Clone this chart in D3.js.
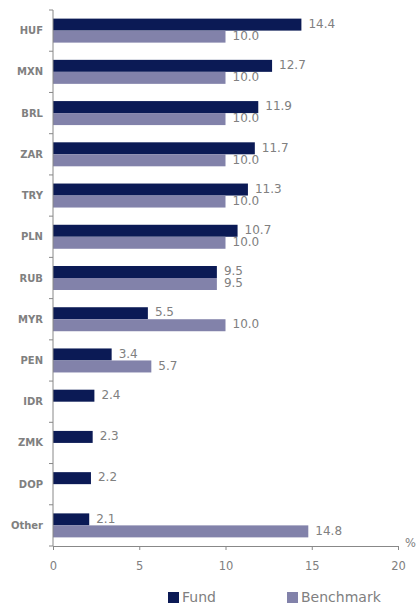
<!DOCTYPE html>
<html>
<head>
<meta charset="utf-8">
<script src="https://cdn.jsdelivr.net/npm/d3@7"></script>
<style>
  body { margin: 0; background: #fff; }
  svg text { font-family: "DejaVu Sans", Verdana, sans-serif; }
</style>
</head>
<body>
<div id="chart"></div>
<script>
// chart size, same as the browser window
const WIDTH = 416, HEIGHT = 605;

// currencies, top to bottom
const currencies = ["HUF", "MXN", "BRL", "ZAR", "TRY", "PLN", "RUB", "MYR", "PEN", "IDR", "ZMK", "DOP", "Other"];
// exposure in %, null = no bar
const fundValues = [14.4, 12.7, 11.9, 11.7, 11.3, 10.7, 9.5, 5.5, 3.4, 2.4, 2.3, 2.2, 2.1];
const benchmarkValues = [10.0, 10.0, 10.0, 10.0, 10.0, 10.0, 9.5, 10.0, 5.7, null, null, null, 14.8];
const xTicks = [0, 5, 10, 15, 20];
const seriesNames = ["Fund", "Benchmark"];
const colors = ["#0b1a55", "#8282aa"];

const margin = { top: 10, right: 18, bottom: 59, left: 53 };

const svg = d3.select("#chart")
    .append("svg")
    .attr("width", WIDTH)
    .attr("height", HEIGHT);

const x = d3.scaleLinear()
    .domain([0, 20])
    .range([margin.left, WIDTH - margin.right]);

const y = d3.scaleBand()
    .domain(currencies)
    .range([margin.top, HEIGHT - margin.bottom]);

const barH = 12;
const grey = "#808080";

// bars: fund on top, benchmark just below
const rows = currencies.map((c, i) => ({ c, fund: fundValues[i], bench: benchmarkValues[i] }));

const g = svg.append("g");

rows.forEach(d => {
    const mid = y(d.c) + y.bandwidth() / 2;
    if (d.fund != null) {
        g.append("rect")
            .attr("x", x(0))
            .attr("y", mid - barH)
            .attr("width", x(d.fund) - x(0))
            .attr("height", barH)
            .attr("fill", colors[0]);
        g.append("text")
            .attr("x", x(d.fund) + 7)
            .attr("y", mid - barH / 2 - 1)
            .attr("dy", "0.35em")
            .attr("fill", grey)
            .style("font-size", "12px")
            .text(d.fund.toFixed(1));
    }
    if (d.bench != null) {
        g.append("rect")
            .attr("x", x(0))
            .attr("y", mid)
            .attr("width", x(d.bench) - x(0))
            .attr("height", barH)
            .attr("fill", colors[1]);
        g.append("text")
            .attr("x", x(d.bench) + 7)
            .attr("y", mid + barH / 2 - 1)
            .attr("dy", "0.35em")
            .attr("fill", grey)
            .style("font-size", "12px")
            .text(d.bench.toFixed(1));
    }
});

// y axis: line with ticks at band edges, labels at band centres
const yAxis = svg.append("g");
yAxis.append("line")
    .attr("x1", x(0)).attr("x2", x(0))
    .attr("y1", margin.top).attr("y2", HEIGHT - margin.bottom)
    .attr("stroke", "#888");
currencies.concat(["_end"]).forEach((c, i) => {
    const yy = margin.top + i * y.step();
    yAxis.append("line")
        .attr("x1", x(0) - 4).attr("x2", x(0))
        .attr("y1", yy).attr("y2", yy)
        .attr("stroke", "#888");
});
yAxis.selectAll("text.cat")
    .data(currencies)
    .enter()
    .append("text")
    .attr("class", "cat")
    .attr("x", x(0) - 10)
    .attr("y", d => y(d) + y.bandwidth() / 2)
    .attr("dy", "0.35em")
    .attr("text-anchor", "end")
    .attr("fill", grey)
    .style("font-size", "10px")
    .style("font-weight", "bold")
    .text(d => d);

// x axis
const xAxis = svg.append("g")
    .attr("transform", `translate(0,${HEIGHT - margin.bottom})`)
    .call(d3.axisBottom(x).tickValues(xTicks).tickSize(4).tickPadding(12).tickFormat(d3.format("d")));
xAxis.select(".domain").attr("stroke", "#888");
xAxis.selectAll(".tick line").attr("stroke", "#888");
xAxis.selectAll(".tick text")
    .attr("fill", grey)
    .style("font-family", "DejaVu Sans, sans-serif")
    .style("font-size", "11.5px");

svg.append("text")
    .attr("x", x(20) + 7)
    .attr("y", HEIGHT - margin.bottom + 1)
    .attr("fill", grey)
    .style("font-size", "11.5px")
    .text("%");

// legend
const legendX = [168, 287];
seriesNames.forEach((name, i) => {
    svg.append("rect")
        .attr("x", legendX[i])
        .attr("y", 592)
        .attr("width", 11)
        .attr("height", 11)
        .attr("fill", colors[i]);
    svg.append("text")
        .attr("x", legendX[i] + 14)
        .attr("y", 601.5)
        .attr("fill", grey)
        .style("font-size", "14px")
        .text(name);
});
</script>
</body>
</html>
